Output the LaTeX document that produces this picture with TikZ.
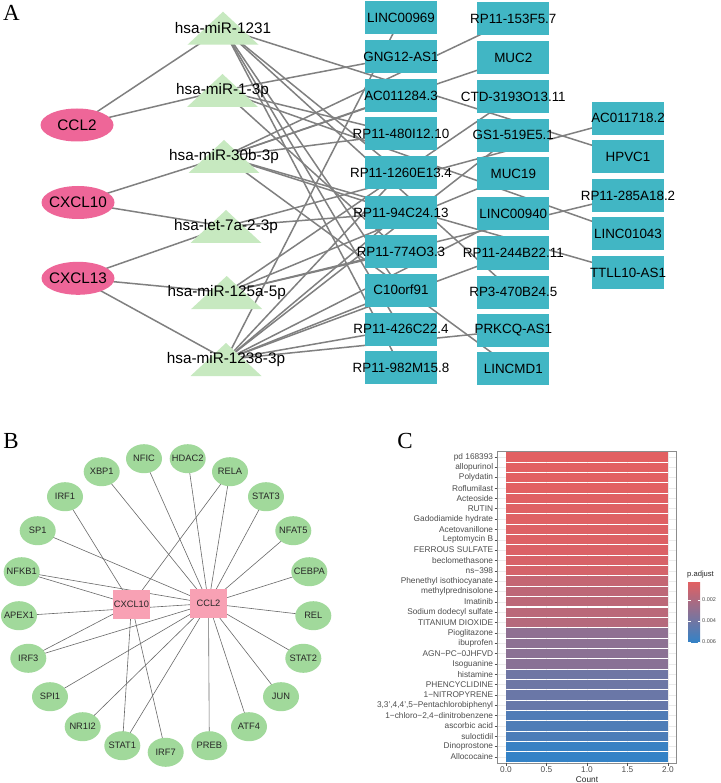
\documentclass[tikz,border=0pt]{standalone}
\usepackage{fontspec}
\setmainfont{Liberation Sans}
\newfontfamily\serifletter{Liberation Serif}
\usetikzlibrary{shapes.geometric}
\pgfdeclarelayer{back}
\pgfdeclarelayer{bg}
\pgfsetlayers{back,bg,main}
\definecolor{tealbox}{RGB}{65,182,196}
\definecolor{trigreen}{RGB}{199,233,192}
\definecolor{pinkA}{RGB}{238,102,152}
\definecolor{greenB}{RGB}{161,217,155}
\definecolor{pinkB}{RGB}{248,161,180}
\definecolor{edgeA}{RGB}{128,128,128}
\definecolor{edgeB}{RGB}{105,105,105}
\definecolor{pred}{RGB}{226,96,98}
\definecolor{pblue}{RGB}{52,130,198}
\definecolor{axtext}{RGB}{77,77,77}
\newcommand\zb[1]{\makebox[0pt][c]{#1}}
\newcommand\mirtri[4]{\fill[trigreen] (#2-35.5,#3+33) -- (#2+35.5,#3+33) -- (#2,#3) -- cycle;
  \node[mir] (#1) at (#2,#3+16.5) {#4};}
\tikzset{
  lnc/.style={rectangle, fill=tealbox, minimum width=72pt, minimum height=33pt, inner sep=0pt, font=\fontsize{13.4}{14}\selectfont},
  chemo/.style={ellipse, fill=pinkA, minimum width=73pt, minimum height=33pt, inner sep=0pt, font=\fontsize{15.3}{16}\selectfont},
  mir/.style={inner sep=0pt, font=\fontsize{15.3}{16}\selectfont},
  lineA/.style={draw=edgeA, line width=1.5pt},
  tf/.style={ellipse, fill=greenB, minimum width=36pt, minimum height=29pt, inner sep=0pt, font=\fontsize{9.3}{10}\selectfont, text=black!85},
  hub/.style={rectangle, fill=pinkB, minimum width=37pt, minimum height=29pt, inner sep=0pt, font=\fontsize{9.3}{10}\selectfont, text=black!85},
  lineB/.style={draw=edgeB, line width=0.6pt},
  panel/.style={font=\serifletter\fontsize{23}{24}\selectfont},
  clab/.style={inner sep=0pt, font=\fontsize{8.3}{9}\selectfont, text=axtext},
  ctick/.style={draw=axtext, line width=0.5pt},
  grid/.style={draw=black!8, line width=0.5pt}
}
\begin{document}
\begin{tikzpicture}[x=1pt,y=-1pt]
\useasboundingbox (0,0) rectangle (720,783);
\begin{pgfonlayer}{back}
\fill[white] (0,0) rectangle (720,783);
\end{pgfonlayer}
% ---------------- Panel A ----------------
\node[panel] (lA) at (11.5,12.5) {A};
\node[chemo] (ccl2) at (77,125) {\zb{CCL2}};
\node[chemo] (cxcl10) at (78,202.5) {\zb{CXCL10}};
\node[chemo] (cxcl13) at (78,278.3) {\zb{CXCL13}};
\mirtri{m1231}{223}{11.7}{hsa-miR-1231}
\mirtri{m13p}{222.5}{74}{hsa-miR-1-3p}
\mirtri{m30b}{224}{140}{hsa-miR-30b-3p}
\mirtri{let7}{226}{210}{hsa-let-7a-2-3p}
\mirtri{m125}{226.7}{276}{hsa-miR-125a-5p}
\mirtri{m1238}{226}{343}{hsa-miR-1238-3p}
% column 1
\node[lnc] (l969) at (401,18) {\zb{LINC00969}};
\node[lnc] (gng) at (401,56.7) {\zb{GNG12-AS1}};
\node[lnc] (ac284) at (401,95.5) {\zb{AC011284.3}};
\node[lnc] (r480) at (401,134) {\zb{RP11-480I12.10}};
\node[lnc] (r1260) at (401,172.7) {\zb{RP11-1260E13.4}};
\node[lnc] (r94) at (401,212.7) {\zb{RP11-94C24.13}};
\node[lnc] (r774) at (401,251.7) {\zb{RP11-774O3.3}};
\node[lnc] (c10) at (401,290) {\zb{C10orf91}};
\node[lnc] (r426) at (401,329) {\zb{RP11-426C22.4}};
\node[lnc] (r982) at (401,367.5) {\zb{RP11-982M15.8}};
% column 2
\node[lnc] (r153) at (513.3,19) {\zb{RP11-153F5.7}};
\node[lnc] (muc2) at (513.3,58) {\zb{MUC2}};
\node[lnc] (ctd) at (513.3,96.7) {\zb{CTD-3193O13.11}};
\node[lnc] (gs1) at (513.3,135.3) {\zb{GS1-519E5.1}};
\node[lnc] (muc19) at (513.3,174) {\zb{MUC19}};
\node[lnc] (l940) at (513.3,214) {\zb{LINC00940}};
\node[lnc] (r244) at (513.3,253) {\zb{RP11-244B22.11}};
\node[lnc] (rp3) at (513.3,292) {\zb{RP3-470B24.5}};
\node[lnc] (prk) at (513.3,330.3) {\zb{PRKCQ-AS1}};
\node[lnc] (lmd1) at (513.3,368.5) {\zb{LINCMD1}};
% column 3
\node[lnc] (ac718) at (628,118.3) {\zb{AC011718.2}};
\node[lnc] (hpvc1) at (628,156.7) {\zb{HPVC1}};
\node[lnc] (r285) at (628,195.5) {\zb{RP11-285A18.2}};
\node[lnc] (l1043) at (628,234) {\zb{LINC01043}};
\node[lnc] (ttll) at (628,272.7) {\zb{TTLL10-AS1}};
\begin{pgfonlayer}{bg}
\foreach \a/\b in {ccl2/m1231, ccl2/m13p, cxcl10/m30b, cxcl10/let7, cxcl13/let7, cxcl13/m125, cxcl13/m1238,
  m1231/hpvc1, m1231/rp3, m1231/r1260, m1231/c10, m1231/r426, m1231/r982,
  m13p/gng, m13p/l1043, m13p/r480, m13p/r774,
  m30b/r153, m30b/muc2, m30b/ac284, m30b/r480, m30b/r94, m30b/ttll, m30b/lmd1,
  let7/ac718, let7/r94,
  m125/ctd, m125/muc19, m125/r285, m125/r774,
  m1238/l969, m1238/gs1, m1238/l940, m1238/r244, m1238/prk, m1238/r1260, m1238/r94, m1238/c10, m1238/r426}
  \draw[lineA] (\a.center) -- (\b.center);
\end{pgfonlayer}
% ---------------- Panel B ----------------
\node[panel] (lB) at (11,441) {B};
\node[hub] (bcxcl10) at (131.5,604.5) {\zb{CXCL10}};
\node[hub] (bccl2) at (208.5,603.5) {\zb{CCL2}};
\node[tf] (nfic) at (144,458.7) {\zb{NFIC}};
\node[tf] (hdac2) at (187.7,458.7) {\zb{HDAC2}};
\node[tf] (rela) at (230,471.7) {\zb{RELA}};
\node[tf] (stat3) at (266,496.7) {\zb{STAT3}};
\node[tf] (nfat5) at (293.3,530.7) {\zb{NFAT5}};
\node[tf] (cebpa) at (309.3,571.7) {\zb{CEBPA}};
\node[tf] (rel) at (313.3,615.7) {\zb{REL}};
\node[tf] (stat2) at (303.3,658.3) {\zb{STAT2}};
\node[tf] (jun) at (281,696.7) {\zb{JUN}};
\node[tf] (atf4) at (249,726.7) {\zb{ATF4}};
\node[tf] (preb) at (209.3,745.7) {\zb{PREB}};
\node[tf] (irf7) at (165.7,752.3) {\zb{IRF7}};
\node[tf] (stat1) at (122.3,745.7) {\zb{STAT1}};
\node[tf] (nr1i2) at (82.7,726.7) {\zb{NR1I2}};
\node[tf] (spi1) at (50,696.7) {\zb{SPI1}};
\node[tf] (irf3) at (28.3,658.3) {\zb{IRF3}};
\node[tf] (apex1) at (19,615.7) {\zb{APEX1}};
\node[tf] (nfkb1) at (21.7,571.7) {\zb{NFKB1}};
\node[tf] (sp1) at (37.7,530.7) {\zb{SP1}};
\node[tf] (irf1) at (65,496.7) {\zb{IRF1}};
\node[tf] (xbp1) at (101.7,471.7) {\zb{XBP1}};
\begin{pgfonlayer}{bg}
\foreach \t in {xbp1, nfic, hdac2, rela, stat3, nfat5, cebpa, rel, stat2, jun, atf4, preb, stat1, nr1i2, spi1, irf3, apex1, nfkb1, sp1}
  \draw[lineB] (bccl2.center) -- (\t.center);
\foreach \t in {rela, irf7, stat1, irf3, nfkb1, irf1}
  \draw[lineB] (bcxcl10.center) -- (\t.center);
\end{pgfonlayer}
% ---------------- Panel C ----------------
\node[panel] (lC) at (405,441) {C};
\foreach \gx in {506,546.5,587,627.5,668}
  \draw[grid] (\gx,451) -- (\gx,763);
\foreach \gx in {526.25,566.75,607.25,647.75}
  \draw[draw=black!4, line width=0.3pt] (\gx,451) -- (\gx,763);
\foreach \i/\n/\t in {1/pd 168393/0, 2/allopurinol/0, 3/Polydatin/0, 4/Roflumilast/0, 5/Acteoside/1,
  6/RUTIN/2, 7/Gadodiamide hydrate/2, 8/Acetovanillone/3, 9/Leptomycin B/3, 10/FERROUS SULFATE/4,
  11/beclomethasone/6, 12/ns−398/8, 13/Phenethyl isothiocyanate/17, 14/methylprednisolone/21,
  15/Imatinib/22, 16/Sodium dodecyl sulfate/23, 17/TITANIUM DIOXIDE/26, 18/Pioglitazone/48,
  19/ibuprofen/49, 20/AGN−PC−0JHFVD/50, 21/Isoguanine/51, 22/histamine/66, 23/PHENCYCLIDINE/67,
  24/1−NITROPYRENE/69, 25/{3,3',4,4',5−Pentachlorobiphenyl}/71, 26/{1−chloro−2,4−dinitrobenzene}/84,
  27/ascorbic acid/85, 28/suloctidil/86, 29/Dinoprostone/97, 30/Allococaine/100}
{
  \pgfmathsetmacro\yy{457+(\i-1)*10.345}
  \draw[grid] (497,\yy) -- (676,\yy);
  \colorlet{barc}{pblue!\t!pred}
  \fill[barc] (506,\yy-4.65) rectangle (668,\yy+4.65);
  \node[clab, anchor=east] (c\i) at (493.3,\yy) {\n};
  \draw[ctick] (494.5,\yy) -- (497,\yy);
}
\draw[draw=black!45, line width=0.6pt] (497,451) rectangle (676,763);
\foreach \k/\lab in {0/0.0, 1/0.5, 2/1.0, 3/1.5, 4/2.0}{
  \draw[ctick] (506+\k*40.5,763) -- (506+\k*40.5,765.7);
  \node[clab] (xt\k) at (506+\k*40.5,770) {\lab};
}
\node[clab, text=black!85] (xtitle) at (587,779.5) {Count};
\node[clab, anchor=west, text=black!85, font=\fontsize{7.6}{8}\selectfont] (legt) at (687,574.5) {p.adjust};
\shade[top color=pred, bottom color=pblue] (688,582) rectangle (700,642);
\foreach \ly/\lab in {600/0.002, 621/0.004, 642/0.006}{
  \draw[white, line width=0.5pt] (688,\ly) -- (690.5,\ly);
  \draw[white, line width=0.5pt] (697.5,\ly) -- (700,\ly);
  \node[clab, anchor=west, font=\fontsize{5.5}{6}\selectfont] at (702,\ly) {\lab};
}
\end{tikzpicture}
\end{document}
